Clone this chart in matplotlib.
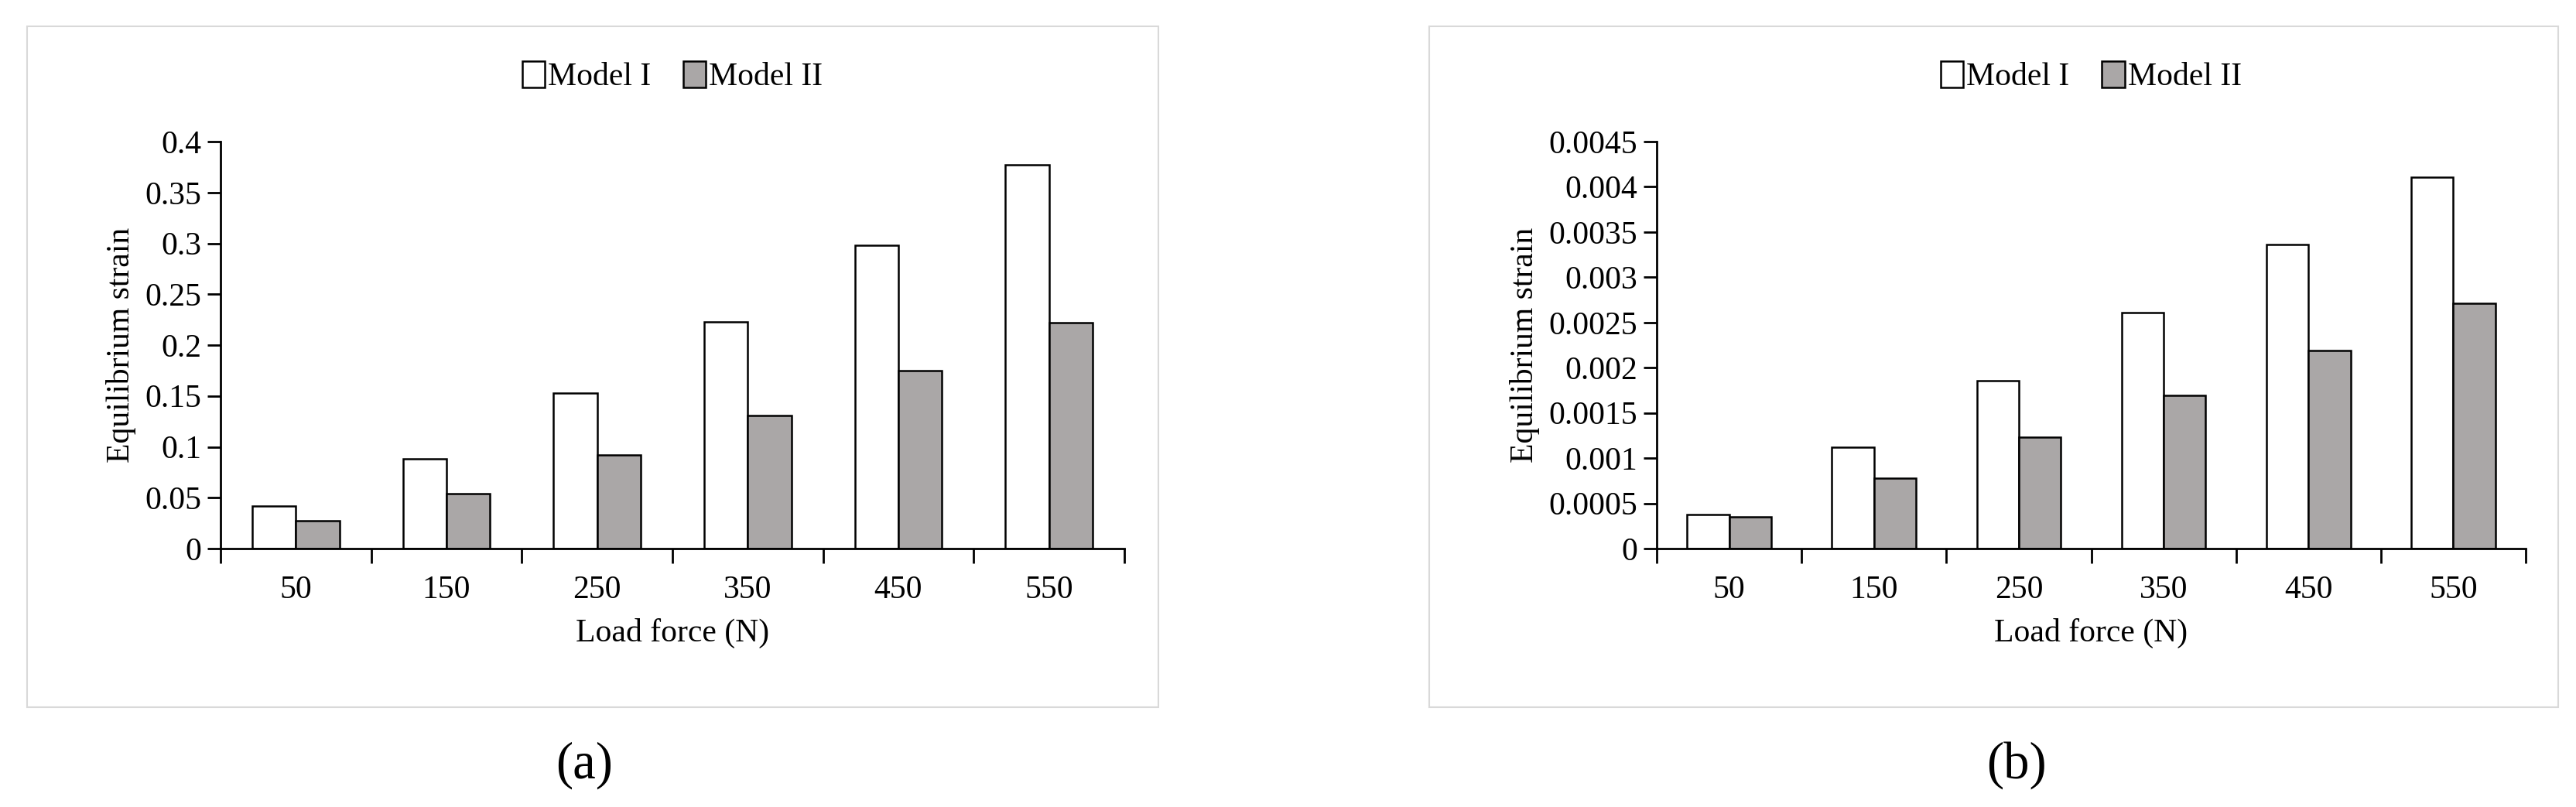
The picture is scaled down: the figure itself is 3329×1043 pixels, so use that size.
import matplotlib
matplotlib.use("Agg")
import matplotlib.pyplot as plt
from matplotlib.patches import Rectangle
import numpy as np

plt.rcParams["font.family"] = ["Liberation Serif", "DejaVu Serif"]

loads = ["50", "150", "250", "350", "450", "550"]
# equilibrium strain, panel (a)
a_model1 = [0.042, 0.088, 0.153, 0.223, 0.298, 0.377]
a_model2 = [0.027, 0.054, 0.092, 0.131, 0.175, 0.222]
# equilibrium strain, panel (b)
b_model1 = [0.00038, 0.00112, 0.00186, 0.00261, 0.00336, 0.00411]
b_model2 = [0.00035, 0.00078, 0.00123, 0.00169, 0.00219, 0.00271]
a_ticks = [0, 0.05, 0.1, 0.15, 0.2, 0.25, 0.3, 0.35, 0.4]
a_labels = ["0", "0.05", "0.1", "0.15", "0.2", "0.25", "0.3", "0.35", "0.4"]
b_ticks = [0, 0.0005, 0.001, 0.0015, 0.002, 0.0025, 0.003, 0.0035, 0.004, 0.0045]
b_labels = ["0", "0.0005", "0.001", "0.0015", "0.002", "0.0025", "0.003",
            "0.0035", "0.004", "0.0045"]

W, H = 3329, 1043
fig = plt.figure(figsize=(W / 100, H / 100), dpi=100)
fs = 30


def panel(ax_px, frame_px, m1, m2, ticks, labels, cap, cap_x):
    x0, x1, y0, y1 = ax_px
    ax = fig.add_axes([x0 / W, 1 - y1 / H, (x1 - x0) / W, (y1 - y0) / H])
    fx0, fx1, fy0, fy1 = frame_px
    fig.patches.append(Rectangle((fx0 / W, 1 - fy1 / H), (fx1 - fx0) / W,
                                 (fy1 - fy0) / H, transform=fig.transFigure,
                                 fill=False, edgecolor="#d9d9d9", lw=1.5))
    x = np.arange(len(loads))
    w = 0.29
    ax.bar(x - w / 2, m1, w, color="white", edgecolor="black", lw=1.8,
           label="Model I")
    ax.bar(x + w / 2, m2, w, color="#aaa7a7", edgecolor="black", lw=1.8,
           label="Model II")
    ax.set_xlim(-0.5, len(loads) - 0.5)
    ax.set_ylim(0, ticks[-1])
    ax.set_yticks(ticks)
    ax.set_yticklabels(labels, fontsize=fs)
    ax.set_xticks(np.arange(-0.5, len(loads), 1.0))
    ax.set_xticklabels([])
    ax.set_xticks(x, minor=True)
    ax.set_xticklabels(loads, minor=True, fontsize=fs)
    ax.tick_params(axis="x", which="minor", length=0, pad=25)
    ax.tick_params(axis="x", which="major", length=14, width=2, direction="out")
    ax.tick_params(axis="y", length=12, width=2, direction="out", pad=6)
    for s in ["top", "right"]:
        ax.spines[s].set_visible(False)
    for s in ["left", "bottom"]:
        ax.spines[s].set_linewidth(2)
    ax.set_xlabel("Load force (N)", fontsize=fs, labelpad=12)
    ax.set_ylabel("Equilibrium strain", fontsize=fs, labelpad=8)
    ax.legend(loc="center", bbox_to_anchor=(0.5, 1.16), ncol=2, frameon=False,
              fontsize=fs, handlelength=0.7, handleheight=0.9,
              handletextpad=0.1, columnspacing=1.0)
    fig.text(cap_x / W, 1 - 989 / H, cap, fontsize=48, ha="center", va="center")


panel((285, 1453, 183, 709), (35, 1497, 34, 914), a_model1, a_model2,
      a_ticks, a_labels, "(a)", 755)
panel((2141, 3264, 183, 709), (1847, 3306, 34, 914), b_model1, b_model2,
      b_ticks, b_labels, "(b)", 2606)

fig.savefig("out.png", dpi=100)
